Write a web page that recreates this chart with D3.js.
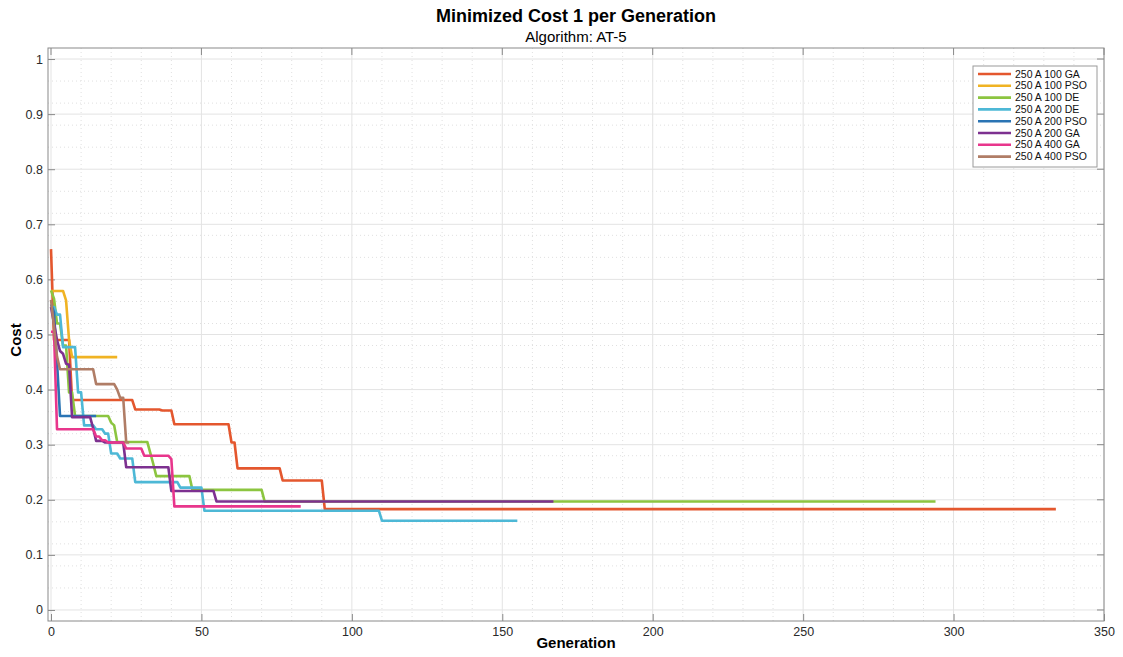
<!DOCTYPE html>
<html>
<head>
<meta charset="utf-8">
<script src="https://cdn.jsdelivr.net/npm/d3@7"></script>
<style>
  body { margin: 0; background: #fff; }
  text { font-family: "Liberation Sans", Arial, sans-serif; }
</style>
</head>
<body>
<div id="chart"></div>
<script>
// change points of each run: generation where the best cost changes, and the new cost
const gen100GA = [0, 1, 7, 28, 37, 41, 60, 62, 77, 91];
const cost100GA = [0.655, 0.49, 0.381, 0.364, 0.362, 0.337, 0.304, 0.257, 0.235, 0.183];
const gen100PSO = [0, 5, 6, 7];
const cost100PSO = [0.579, 0.562, 0.49, 0.459];
const gen100DE = [0, 1, 2, 4, 6, 8, 20, 21, 22, 33, 34, 35, 47, 71];
const cost100DE = [0.58, 0.565, 0.52, 0.48, 0.395, 0.352, 0.34, 0.335, 0.305, 0.285, 0.265, 0.243, 0.218, 0.197];
const gen200DE = [0, 2, 4, 9, 11, 15, 18, 20, 23, 28, 43, 51, 110];
const cost200DE = [0.55, 0.536, 0.477, 0.395, 0.335, 0.328, 0.32, 0.284, 0.275, 0.232, 0.222, 0.18, 0.162];
const gen200PSO = [0, 1, 2, 3];
const cost200PSO = [0.555, 0.54, 0.45, 0.352];
const gen200GA = [0, 1, 2, 3, 4, 5, 6, 7, 14, 15, 18, 25, 40, 55];
const cost200GA = [0.55, 0.52, 0.49, 0.47, 0.465, 0.447, 0.445, 0.35, 0.33, 0.307, 0.304, 0.259, 0.216, 0.197];
const gen400GA = [0, 2, 15, 17, 19, 25, 31, 40, 41];
const cost400GA = [0.505, 0.328, 0.315, 0.308, 0.304, 0.293, 0.28, 0.274, 0.188];
const gen400PSO = [0, 1, 2, 3, 15, 22, 23, 25];
const cost400PSO = [0.563, 0.514, 0.46, 0.437, 0.41, 0.4, 0.385, 0.304];
// last generation of each run
const lastGen = [334, 22, 294, 155, 15, 167, 83, 26];

const seriesNames = ["250 A 100 GA", "250 A 100 PSO", "250 A 100 DE", "250 A 200 DE",
                     "250 A 200 PSO", "250 A 200 GA", "250 A 400 GA", "250 A 400 PSO"];
const seriesGens = [gen100GA, gen100PSO, gen100DE, gen200DE, gen200PSO, gen200GA, gen400GA, gen400PSO];
const seriesCosts = [cost100GA, cost100PSO, cost100DE, cost200DE, cost200PSO, cost200GA, cost400GA, cost400PSO];
const colors = ["#e4572e", "#f0b323", "#8cc540", "#4db8d6", "#2a74b4", "#7d3190", "#e8368c", "#b07d66"];

const xTicks = [0, 50, 100, 150, 200, 250, 300, 350];
const yTicks = [0, 0.1, 0.2, 0.3, 0.4, 0.5, 0.6, 0.7, 0.8, 0.9, 1];

const width = 1123;
const height = 657;
const margin = { left: 48, right: 19, top: 48, bottom: 36 };

const svg = d3.select("#chart")
  .append("svg")
  .attr("width", width)
  .attr("height", height);

const x = d3.scaleLinear().domain([-1, 350]).range([margin.left, width - margin.right]);
const y = d3.scaleLinear().domain([-0.02, 1.02]).range([height - margin.bottom, margin.top]);

// minor grid
svg.append("g").selectAll("line")
  .data(d3.range(0, 351, 10).filter(d => d % 50 !== 0))
  .join("line")
  .attr("x1", d => x(d)).attr("x2", d => x(d))
  .attr("y1", y.range()[0]).attr("y2", y.range()[1])
  .attr("stroke", "#e0e0e0").attr("stroke-dasharray", "1,3");
svg.append("g").selectAll("line")
  .data(d3.range(0, 51, 2).map(d => d / 50).filter((d, i) => i % 5 !== 0))
  .join("line")
  .attr("x1", x.range()[0]).attr("x2", x.range()[1])
  .attr("y1", d => y(d)).attr("y2", d => y(d))
  .attr("stroke", "#e0e0e0").attr("stroke-dasharray", "1,3");

// major grid
svg.append("g").selectAll("line")
  .data(xTicks)
  .join("line")
  .attr("x1", d => x(d)).attr("x2", d => x(d))
  .attr("y1", y.range()[0]).attr("y2", y.range()[1])
  .attr("stroke", "#e3e3e3");
svg.append("g").selectAll("line")
  .data(yTicks)
  .join("line")
  .attr("x1", x.range()[0]).attr("x2", x.range()[1])
  .attr("y1", d => y(d)).attr("y2", d => y(d))
  .attr("stroke", "#e3e3e3");

// axes (ticks pointing inside)
const xAxis = svg.append("g")
  .attr("transform", `translate(0,${y.range()[0]})`)
  .call(d3.axisBottom(x).tickValues(xTicks).tickSize(-7).tickPadding(6).tickFormat(d3.format("d")));
const yAxis = svg.append("g")
  .attr("transform", `translate(${x.range()[0]},0)`)
  .call(d3.axisLeft(y).tickValues(yTicks).tickSize(-7).tickPadding(5).tickFormat(d => String(+d.toFixed(1))));
[xAxis, yAxis].forEach(g => {
  g.select(".domain").remove();
  g.selectAll(".tick line").attr("stroke", "#8a8a8a");
  g.selectAll(".tick text").attr("fill", "#2a2a2a").style("font-size", "12.5px");
});
// top / right ticks
svg.append("g").selectAll("line").data(xTicks).join("line")
  .attr("x1", d => x(d)).attr("x2", d => x(d))
  .attr("y1", y.range()[1]).attr("y2", y.range()[1] + 7).attr("stroke", "#8a8a8a");
svg.append("g").selectAll("line").data(yTicks).join("line")
  .attr("x1", x.range()[1]).attr("x2", x.range()[1] - 7)
  .attr("y1", d => y(d)).attr("y2", d => y(d)).attr("stroke", "#8a8a8a");

// box
svg.append("rect")
  .attr("x", x.range()[0]).attr("y", y.range()[1])
  .attr("width", x.range()[1] - x.range()[0])
  .attr("height", y.range()[0] - y.range()[1])
  .attr("fill", "none").attr("stroke", "#8a8a8a");

// series: expand change points into per-generation steps
function stepPoints(gens, costs, last) {
  const pts = [[gens[0], costs[0]]];
  for (let k = 1; k < gens.length; k++) {
    pts.push([gens[k] - 1, costs[k - 1]]);
    pts.push([gens[k], costs[k]]);
  }
  pts.push([last, costs[costs.length - 1]]);
  return pts;
}

const line = d3.line().x(d => x(d[0])).y(d => y(d[1]));

svg.append("g").selectAll("path")
  .data(seriesNames.map((n, i) => stepPoints(seriesGens[i], seriesCosts[i], lastGen[i])))
  .join("path")
  .attr("d", line)
  .attr("fill", "none")
  .attr("stroke", (d, i) => colors[i])
  .attr("stroke-width", 2.6)
  .attr("stroke-linejoin", "round");

// legend
const lg = svg.append("g").attr("transform", "translate(973,66)");
lg.append("rect")
  .attr("width", 124).attr("height", 101)
  .attr("fill", "#fff").attr("stroke", "#9a9a9a");
const item = lg.selectAll("g.item")
  .data(seriesNames)
  .join("g")
  .attr("class", "item")
  .attr("transform", (d, i) => `translate(0,${8 + i * 11.8})`);
item.append("line")
  .attr("x1", 5).attr("x2", 38)
  .attr("stroke", (d, i) => colors[i]).attr("stroke-width", 2.6);
item.append("text")
  .attr("x", 42).attr("dy", "0.35em")
  .style("font-size", "10.5px").attr("fill", "#111")
  .text(d => d);

// titles
svg.append("text")
  .attr("x", 576).attr("y", 22)
  .attr("text-anchor", "middle")
  .style("font-size", "18px").style("font-weight", "bold")
  .text("Minimized Cost 1 per Generation");
svg.append("text")
  .attr("x", 576).attr("y", 42)
  .attr("text-anchor", "middle")
  .style("font-size", "15px")
  .text("Algorithm: AT-5");
svg.append("text")
  .attr("x", 576).attr("y", 648)
  .attr("text-anchor", "middle")
  .style("font-size", "15px").style("font-weight", "bold")
  .text("Generation");
svg.append("text")
  .attr("transform", "translate(21,340) rotate(-90)")
  .attr("text-anchor", "middle")
  .style("font-size", "15px").style("font-weight", "bold")
  .text("Cost");
</script>
</body>
</html>
